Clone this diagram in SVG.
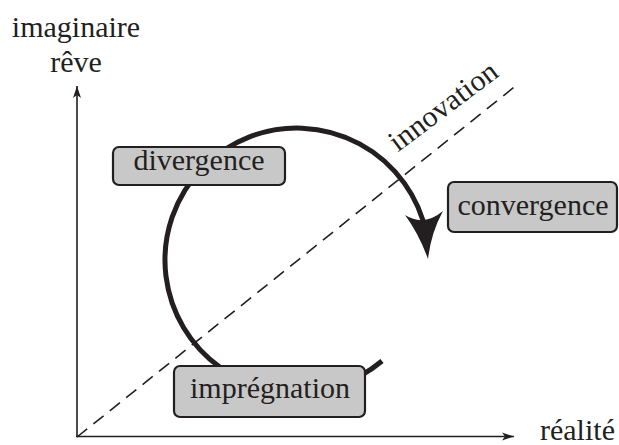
<svg xmlns="http://www.w3.org/2000/svg" width="619" height="445" viewBox="0 0 619 445">
<style>
.t{font-family:"Liberation Serif","Times New Roman",serif;font-size:30px;fill:#231f20}
.box{fill:#c8c8c8;stroke:#231f20;stroke-width:2.2}
.axis{stroke:#231f20;stroke-width:1.6;fill:none}
</style>
<defs>
<marker id="ah" markerWidth="14" markerHeight="10" refX="12" refY="5" orient="auto" markerUnits="userSpaceOnUse">
<path d="M0,1 L12,5 L0,9 L3,5 Z" fill="#231f20"/>
</marker>
</defs>
<rect width="619" height="445" fill="#fff"/>
<g id="connectors">
<line class="axis" x1="77" y1="437" x2="77" y2="86" marker-end="url(#ah)"/>
<line class="axis" x1="76" y1="436.5" x2="514" y2="436.5" marker-end="url(#ah)"/>
<line x1="77" y1="437" x2="518" y2="84" stroke="#231f20" stroke-width="1.6" stroke-dasharray="13,8"/>
<path d="M382,361 A132,132 0 1 1 426.1,232.6" fill="none" stroke="#231f20" stroke-width="5"/>
<path d="M428,259 Q419,234 405,215 Q424,227 443,211 Q431,233 428,259 Z" fill="#231f20"/>
</g>
<g id="axis-labels">
<text class="t" x="76" y="37" text-anchor="middle">imaginaire</text>
<text class="t" x="76" y="72" text-anchor="middle">rêve</text>
<text class="t" x="540" y="440">réalité</text>
<text class="t" x="449" y="114" text-anchor="middle" transform="rotate(-37 449 114)">innovation</text>
</g>
<g id="divergence">
<rect class="box" x="113" y="147" width="172" height="38" rx="6"/>
<text class="t" x="199" y="170" text-anchor="middle">divergence</text>
</g>
<g id="convergence">
<rect class="box" x="448" y="182" width="169" height="50" rx="6"/>
<text class="t" x="533" y="215" text-anchor="middle">convergence</text>
</g>
<g id="impregnation">
<rect class="box" x="174" y="366" width="191" height="51" rx="6"/>
<text class="t" x="270" y="398" text-anchor="middle">imprégnation</text>
</g>
</svg>
